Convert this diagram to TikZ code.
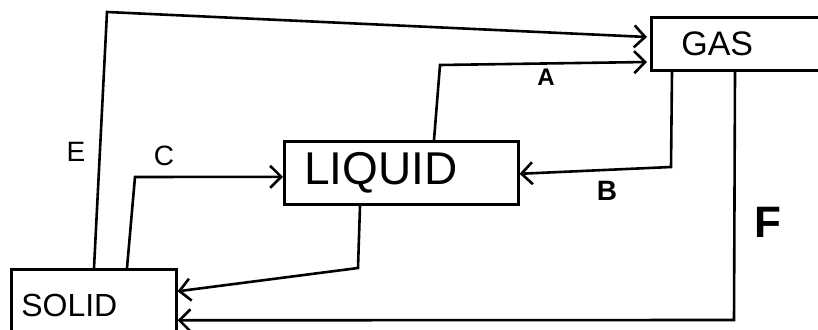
\documentclass[tikz,border=0pt]{standalone}
\usepackage{fontspec}
\setmainfont{Liberation Sans}
\usetikzlibrary{arrows.meta,calc}
\begin{document}
\begin{tikzpicture}[x=1pt,y=-1pt,
  box/.style={draw,line width=2.6pt,align=left,inner ysep=0pt},
  arr/.style={draw,line width=2.6pt,-{Straight Barb[length=11pt,width=22pt,line width=2.6pt]}},
  lbl/.style={inner sep=0pt,font=\fontsize{28}{28}\selectfont}]
\useasboundingbox (0,0) rectangle (818,329);
% boxes
\node[box,anchor=north west,minimum height=72pt,text width=145pt,inner xsep=10pt,
      font=\fontsize{32}{32}\selectfont] (SOLID) at (10,268) {SOLID};
\node[box,anchor=north west,minimum height=63pt,text width=194pt,inner xsep=20pt,
      font=\fontsize{46}{46}\selectfont] (LIQUID) at (283,140) {LIQUID};
\node[box,anchor=north west,minimum height=53pt,text width=120pt,inner xsep=30pt,
      font=\fontsize{34}{34}\selectfont] (GAS) at (650,16) {GAS};
% bend points
\coordinate (e1) at (107,12);
\coordinate (c1) at (135,177);
\coordinate (a1) at (440,65);
\coordinate (b1) at (671,167);
\coordinate (l1) at (358,268);
\coordinate (f1) at (734,320);
% connectors
\draw[arr] ($(SOLID.north west)+(84,0)$) -- (e1) -- ($(GAS.north west)+(-3,21)$);
\draw[arr] ($(SOLID.north west)+(117,0)$) -- (c1) -- ($(LIQUID.west)+(0,4)$);
\draw[arr] ($(LIQUID.north west)+(151,0)$) -- (a1) -- ($(GAS.north west)+(-3,46)$);
\draw[arr] ($(GAS.south west)+(22,0)$) -- (b1) -- ($(LIQUID.east)+(0,1)$);
\draw[arr] ($(LIQUID.south west)+(77,0)$) -- (l1) -- ($(SOLID.east)+(0,-14)$);
\draw[arr] ($(GAS.south west)+(85,0)$) -- (f1) -- ($(SOLID.east)+(0,15)$);
% labels
\node[lbl] (lE) at (76,152) {E};
\node[lbl] (lC) at (164,156) {C};
\node[lbl,font=\bfseries\fontsize{24}{24}\selectfont] (lA) at (546,77) {A};
\node[lbl,font=\bfseries\fontsize{28}{28}\selectfont] (lB) at (607,191) {B};
\node[lbl,font=\bfseries\fontsize{44}{44}\selectfont] (lF) at (768,222) {F};
\end{tikzpicture}
\end{document}
